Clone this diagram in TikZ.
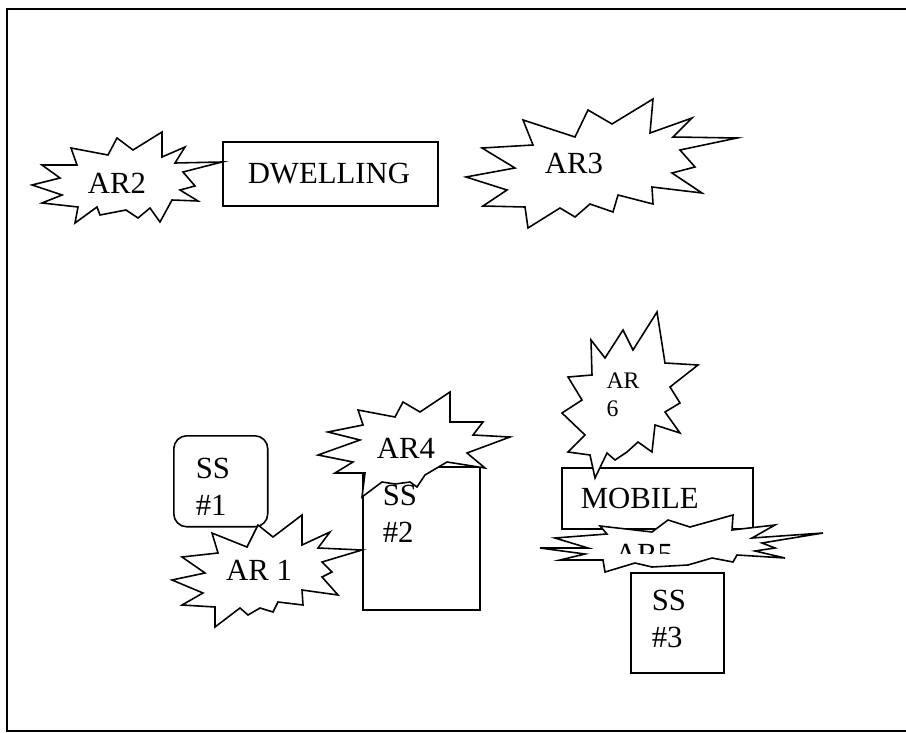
\documentclass[tikz,border=0pt]{standalone}
\usepackage{fontspec}
\setmainfont{Liberation Serif}
\tikzset{
  box/.style   ={draw, rectangle, anchor=north west, align=left, inner ysep=0pt,
                 line width=0.9pt, font=\fontsize{17.5}{21}\selectfont},
  rbox/.style  ={box, rounded corners=0.26cm},
  burst/.style ={draw, fill=white, line width=0.9pt, line join=miter},
  lbl/.style   ={font=\fontsize{17.5}{21}\selectfont, inner sep=0pt},
  slbl/.style  ={lbl, align=left, font=\fontsize{13.5}{16}\selectfont},
  pageframe/.style={line width=1.4pt},
}
\begin{document}
\begin{tikzpicture}[x=0.02cm, y=-0.02cm]
\useasboundingbox (0,0) rectangle (906,733);
\draw[pageframe] (906,9) -- (7,9) -- (7,731) -- (906,731);

% boxes
\node[box, inner xsep=0.5cm, text width=3.3cm, text height=0.84cm, text depth=0.44cm]
   (dwelling) at (222,141) {DWELLING};
\node[rbox, inner xsep=0.44cm, text width=1cm, text height=0.86cm, text depth=0.96cm]
   (ss1) at (173,435) {SS\\\#1};
\node[box, inner xsep=0.4cm, text width=1.54cm, text height=0.78cm, text depth=2.08cm]
   (ss2) at (362,466) {SS\\\#2};
\node[box, inner xsep=0.38cm, text width=3.06cm, text height=0.82cm, text depth=0.4cm]
   (mobile) at (561,467) {MOBILE};
\node[box, inner xsep=0.42cm, text width=1.02cm, text height=0.76cm, text depth=1.24cm]
   (ss3) at (630,572) {SS\\\#3};

% area bursts
\draw[burst] plot coordinates {(71,148) (108,155) (117,138) (133,150) (162,132) (162,157)
   (185,147) (175,163) (222,162) (183,172) (195,186) (180,190) (198,201) (172,200)
   (160,222) (150,208) (138,218) (126,210) (100,215) (97,207) (75,223) (78,207)
   (42,203) (62,195) (32,185) (60,178) (42,165) (77,165)} -- cycle;
\node[lbl] (ar2) at (117,183) {AR2};

\draw[burst] plot coordinates {(523,120) (575,137) (588,110) (612,124) (653,99) (650,133)
   (692,118) (673,137) (737,138) (680,150) (695,167) (672,173) (702,193) (652,187)
   (653,204) (618,195) (613,212) (590,204) (575,217) (560,208) (528,228) (525,207)
   (483,206) (507,190) (466,177) (515,168) (482,148) (533,145)} -- cycle;
\node[lbl] (ar3) at (574,163) {AR3};

\draw[burst] plot coordinates {(258,525) (273,537) (302,515) (302,545) (330,532) (318,548)
   (362,550) (322,562) (332,572) (322,577) (338,595) (302,590) (303,605) (278,602)
   (273,612) (260,608) (248,615) (240,608) (215,627) (215,607) (182,605) (203,593)
   (172,580) (205,573) (182,557) (218,553) (212,533) (247,547)} -- cycle;
\node[lbl] (ar1) at (259,570) {AR 1};

\draw[burst] plot coordinates {(358,410) (395,417) (403,402) (420,412) (450,392) (450,422)
   (483,422) (473,435) (510,437) (467,453) (485,468) (447,462) (425,475) (417,487)
   (410,482) (395,484) (382,482) (362,497) (365,473) (335,473) (353,462) (318,455)
   (360,440) (328,432) (363,425)} -- cycle;
\node[lbl] (ar4) at (406,448) {AR4};

\draw[burst] plot coordinates {(591,340) (605,358) (623,330) (633,350) (657,312) (665,363)
   (698,365) (670,387) (680,403) (665,412) (680,433) (655,425) (652,452) (638,442)
   (627,452) (615,460) (607,453) (595,478) (590,455) (568,452) (585,435) (562,413)
   (582,400) (568,377) (592,375)} -- cycle;
\node[slbl] (ar6) at (623,395) {AR\\6};

\draw[burst] plot coordinates {(540,548) (588,548) (555,538) (607,534) (600,526) (652,532)
   (668,520) (690,527) (733,515) (732,530) (775,525) (752,538) (823,533) (762,543)
   (775,548) (755,551) (785,558) (737,555) (733,562) (712,558) (688,565) (652,567)
   (635,563) (605,572) (603,560) (560,560) (585,554)} -- cycle;
\begin{scope}
\clip (600,500) rectangle (700,553);
\node[lbl] (ar5) at (644,554) {AR5};
\end{scope}
\end{tikzpicture}
\end{document}
